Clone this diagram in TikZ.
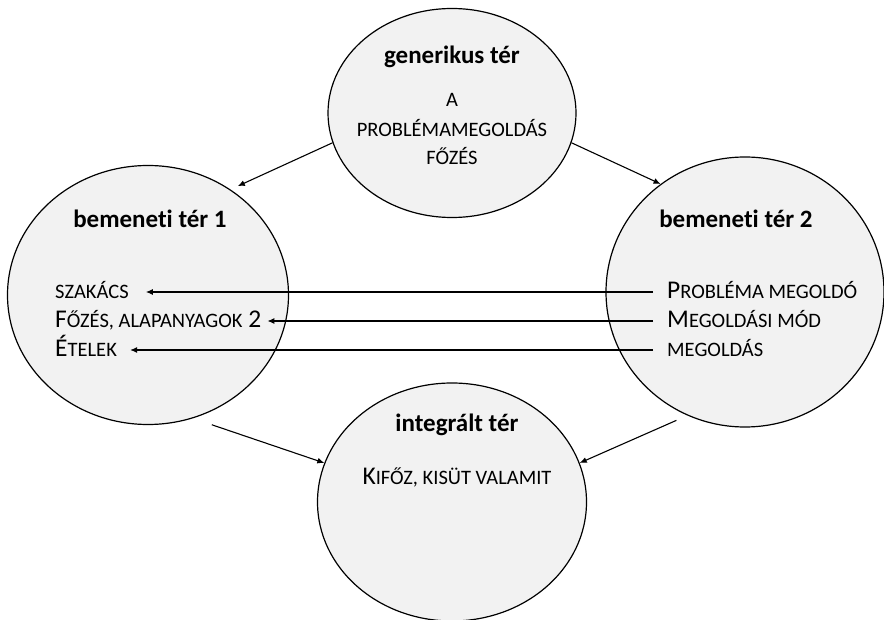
\documentclass[tikz,border=0pt]{standalone}
\usepackage{fontspec}
\setmainfont{Carlito}[Ligatures=NoCommon]
\usetikzlibrary{shapes.geometric,arrows.meta}
\newcommand\kis[1]{{\fontsize{20.5}{23}\selectfont #1}}

\tikzset{
  ter/.style={ellipse,draw,line width=1.2pt,fill=black!5,inner sep=0pt},
  cim/.style={font=\fontsize{25}{30}\selectfont\bfseries},
  elem/.style={font=\fontsize{25.5}{30}\selectfont,inner sep=0pt,text height=15pt,text depth=1pt},
  nyil/.style={-{Latex[length=7pt,width=6pt]},line width=1.1pt},
}

\begin{document}
\begin{tikzpicture}[x=1pt,y=-1pt]
\useasboundingbox (0,0) rectangle (884,620);
% a negy ter
\node[ter,minimum width=248pt,minimum height=209pt] (gen) at (452,113) {};
\node[ter,minimum width=281pt,minimum height=259pt] (be1) at (148,295) {};
\node[ter,minimum width=278pt,minimum height=270pt] (be2) at (745,292) {};
\node[ter,minimum width=269pt,minimum height=238pt] (int) at (452,502) {};

% cimek
\node[cim] (gencim) at (452,57) {generikus tér};
\node[cim] (be1cim) at (150,219) {bemeneti tér 1};
\node[cim] (be2cim) at (736,219) {bemeneti tér 2};
\node[cim] (intcim) at (457,425) {integrált tér};

% generikus ter
\node[elem] (gena) at (452,100) {\kis{A}};
\node[elem] (genb) at (452,130) {\kis{PROBLÉMAMEGOLDÁS}};
\node[elem] (genc) at (452,158) {\kis{FŐZÉS}};

% bemeneti ter 1
\node[elem,anchor=west] (szakacs) at (55,292) {\kis{SZAKÁCS}};
\node[elem,anchor=west] (fozes) at (55,321) {F\kis{ŐZÉS, ALAPANYAGOK} 2};
\node[elem,anchor=west] (etelek) at (55,350) {É\kis{TELEK}};

% bemeneti ter 2
\node[elem,anchor=west] (probl) at (667,292) {P\kis{ROBLÉMA MEGOLDÓ}};
\node[elem,anchor=west] (modja) at (667,321) {M\kis{EGOLDÁSI MÓD}};
\node[elem,anchor=west] (megold) at (667,350) {\kis{MEGOLDÁS}};

% integralt ter
\node[elem] (kifoz) at (457,477) {K\kis{IFŐZ, KISÜT VALAMIT}};

% nyilak
\draw[nyil,shorten >=8pt] (gen.194) -- (be1.52);
\draw[nyil] (gen.-14) -- (be2.128.7);
\draw[nyil,shorten <=20pt] (be1.-70) -- (int.163);
\draw[nyil,shorten <=12pt] (be2.-115) -- (int.17);
\draw[nyil,shorten <=14pt,shorten >=17pt] (probl.west) -- (szakacs.east);
\draw[nyil,shorten <=14pt,shorten >=6pt] (modja.west) -- (fozes.east);
\draw[nyil,shorten <=14pt,shorten >=13pt] (megold.west) -- (etelek.east);
\end{tikzpicture}
\end{document}
